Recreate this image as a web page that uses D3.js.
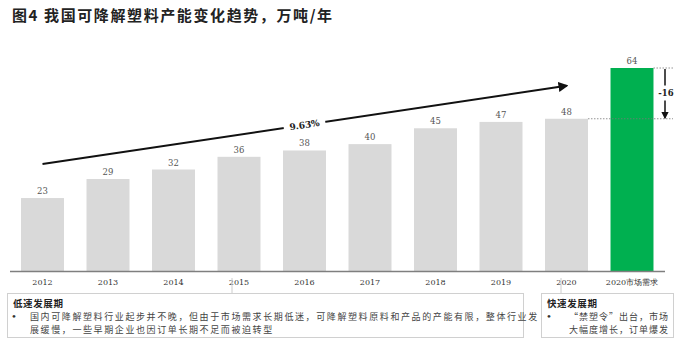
<!DOCTYPE html>
<html>
<head>
<meta charset="utf-8">
<script src="https://cdn.jsdelivr.net/npm/d3@7"></script>
<style>
  html, body { margin: 0; padding: 0; background: #fff; }
  svg { display: block; }
</style>
</head>
<body>
<svg id="chart" width="675" height="348"></svg>
<script>
// Capacity of degradable plastics in China, 10k tonnes per year
const categories = ["2012", "2013", "2014", "2015", "2016", "2017", "2018", "2019", "2020", "2020市场需求"];
const capacity = [23, 29, 32, 36, 38, 40, 45, 47, 48, 64];
const barColors = ["#d9d9d9", "#d9d9d9", "#d9d9d9", "#d9d9d9", "#d9d9d9", "#d9d9d9", "#d9d9d9", "#d9d9d9", "#d9d9d9", "#00b050"];
const titleText = "图4 我国可降解塑料产能变化趋势，万吨/年";
const phases = [
  { title: "低速发展期", lines: ["国内可降解塑料行业起步并不晚，但由于市场需求长期低迷，可降解塑料原料和产品的产能有限，整体行业发", "展缓慢，一些早期企业也因订单长期不足而被迫转型"] },
  { title: "快速发展期", lines: ["“禁塑令”出台，市场", "大幅度增长，订单爆发"] }
];

const serif = "'DejaVu Serif', 'Liberation Serif', serif";
const cjk = "'Noto Sans CJK SC', sans-serif";

const svg = d3.select("#chart");

// Title
svg.append("text")
  .attr("x", 12).attr("y", 21)
  .attr("font-family", cjk).attr("font-weight", 700)
  .attr("font-size", 15).attr("letter-spacing", 1.6).attr("fill", "#222")
  .text(titleText);

const baseY = 271;
const x = d3.scaleBand()
  .domain(categories)
  .range([9.75, 664.75])
  .paddingInner(0.344)
  .paddingOuter(0.172);
const y = d3.scaleLinear().domain([0, 64]).range([baseY, 68]);

const data = categories.map((c, i) => ({ c, v: capacity[i], color: barColors[i] }));

// Bars
svg.append("g").selectAll("rect").data(data).join("rect")
  .attr("x", d => x(d.c))
  .attr("y", d => y(d.v))
  .attr("width", x.bandwidth())
  .attr("height", d => baseY - y(d.v))
  .attr("fill", d => d.color);

// Value labels
svg.append("g").selectAll("text").data(data).join("text")
  .attr("x", d => x(d.c) + x.bandwidth() / 2)
  .attr("y", d => y(d.v) - 4)
  .attr("text-anchor", "middle")
  .attr("font-family", serif).attr("font-size", 8.5).attr("fill", "#555")
  .text(d => d.v);

// Category axis
const axis = svg.append("g").attr("transform", `translate(0,${baseY})`)
  .call(d3.axisBottom(x).tickSize(0).tickPadding(8));
axis.select(".domain").attr("stroke", "#7f7f7f").attr("stroke-width", 1.5)
  .attr("d", "M10,0.5H665");
axis.selectAll("text")
  .attr("font-family", serif)
  .attr("font-size", 8).attr("fill", "#333");

// Growth arrow from 2012 to 2020
const defs = svg.append("defs");
defs.append("marker").attr("id", "head")
  .attr("viewBox", "0 0 10 10").attr("refX", 8).attr("refY", 5)
  .attr("markerWidth", 5).attr("markerHeight", 5).attr("orient", "auto")
  .append("path").attr("d", "M0,0L10,5L0,10z").attr("fill", "#111");

const lift = 34;
const x1 = x("2012") + x.bandwidth() / 2, y1 = y(capacity[0]) - lift;
const x2 = x("2020") + x.bandwidth() / 2, y2 = y(capacity[8]) - lift + 1;
svg.append("line")
  .attr("x1", x1).attr("y1", y1).attr("x2", x2).attr("y2", y2)
  .attr("stroke", "#111").attr("stroke-width", 2)
  .attr("marker-end", "url(#head)");

const cagr = Math.pow(capacity[8] / capacity[0], 1 / 8) - 1;
const mx = (x1 + x2) / 2, my = (y1 + y2) / 2;
const ang = Math.atan2(y2 - y1, x2 - x1) * 180 / Math.PI;
const lab = svg.append("g").attr("transform", `translate(${mx},${my}) rotate(${ang})`);
lab.append("rect").attr("x", -21).attr("y", -7).attr("width", 42).attr("height", 14).attr("fill", "#fff");
lab.append("text").attr("text-anchor", "middle").attr("dy", "0.35em")
  .attr("font-family", serif).attr("font-weight", 700).attr("font-size", 9).attr("fill", "#222")
  .text((cagr * 100).toFixed(2) + "%");

// Gap between demand and 2020 capacity
const gapTop = y(capacity[9]), gapBot = y(capacity[8]);
const gx = 665;
svg.append("line")
  .attr("x1", x(categories[9]) + x.bandwidth()).attr("x2", 673)
  .attr("y1", gapTop).attr("y2", gapTop)
  .attr("stroke", "#777").attr("stroke-width", 0.8).attr("stroke-dasharray", "1.5,1.5");
svg.append("line")
  .attr("x1", x("2020") + x.bandwidth()).attr("x2", 673)
  .attr("y1", gapBot).attr("y2", gapBot)
  .attr("stroke", "#777").attr("stroke-width", 0.8).attr("stroke-dasharray", "1.5,1.5");
const midGap = (gapTop + gapBot) / 2;
svg.append("line").attr("x1", gx).attr("x2", gx).attr("y1", gapTop + 1).attr("y2", midGap - 8)
  .attr("stroke", "#111").attr("stroke-width", 1.5);
svg.append("line").attr("x1", gx).attr("x2", gx).attr("y1", midGap + 7).attr("y2", gapBot - 1)
  .attr("stroke", "#111").attr("stroke-width", 1.5).attr("marker-end", "url(#head)");
svg.append("text").attr("x", gx + 1).attr("y", midGap).attr("dy", "0.35em")
  .attr("text-anchor", "middle")
  .attr("font-family", serif).attr("font-weight", 700).attr("font-size", 8.5).attr("fill", "#222")
  .text("-" + (capacity[9] - capacity[8]));

// Phase description boxes
const boxes = [
  { x: 7, w: 516, link: 232, textX: 30, bulletX: 11, spacing: 1.6 },
  { x: 541, w: 132, link: 561, textX: 567, bulletX: 546, spacing: 1.0 }
];
phases.forEach((p, i) => {
  const b = boxes[i];
  svg.append("line").attr("x1", b.link).attr("x2", b.link).attr("y1", 278).attr("y2", 293)
    .attr("stroke", "#ccc").attr("stroke-width", 1);
  svg.append("rect").attr("x", b.x + 0.5).attr("y", 293.5).attr("width", b.w).attr("height", 44)
    .attr("fill", "#fff").attr("stroke", "#d0d0d0").attr("stroke-width", 1);
  svg.append("text").attr("x", b.x + 6).attr("y", 307)
    .attr("font-family", cjk).attr("font-weight", 700).attr("font-size", 9.5)
    .attr("letter-spacing", 0.6).attr("fill", "#222")
    .text(p.title);
  svg.append("text").attr("x", b.bulletX).attr("y", 320)
    .attr("font-family", serif).attr("font-size", 10).attr("fill", "#333").text("•");
  p.lines.forEach((ln, j) => {
    const t = svg.append("text")
      .attr("y", 320 + j * 12.5)
      .attr("font-family", cjk).attr("font-size", 9).attr("letter-spacing", b.spacing).attr("fill", "#444")
      .text(ln);
    if (i === 1) {
      t.attr("x", 669).attr("text-anchor", "end");
    } else {
      t.attr("x", b.textX);
    }
  });
});
</script>
</body>
</html>
